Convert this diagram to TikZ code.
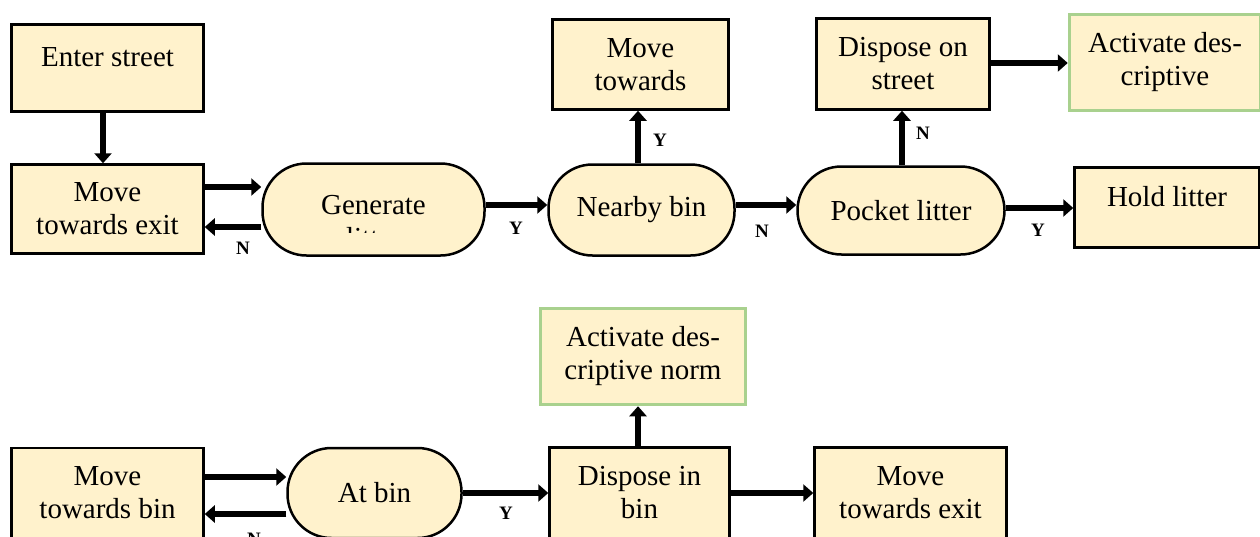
\documentclass[tikz,border=0pt]{standalone}
\usepackage{fontspec}
\setmainfont{Liberation Serif}
\usetikzlibrary{arrows.meta}
\definecolor{boxfill}{HTML}{FFF2CC}
\definecolor{normgreen}{HTML}{A9D18E}
\begin{document}
\begin{tikzpicture}[x=1pt,y=-1pt,
  base/.style={font=\fontsize{29}{33}\selectfont, align=center, inner sep=0pt},
  box/.style={base, draw=black, line width=2.5pt, fill=boxfill, rectangle},
  normbox/.style={base, draw=normgreen, line width=3.5pt, fill=boxfill, rectangle},
  stadium/.style={base, draw=black, line width=2.5pt, fill=boxfill, rectangle, rounded corners=44pt},
  arr/.style={line width=6.5pt, -{Triangle[length=10pt,width=17pt]}},
  lab/.style={font=\fontsize{19}{22}\selectfont\bfseries, inner sep=0pt}]
\useasboundingbox (0,0) rectangle (1260,536);
\clip (0,0) rectangle (1260,536);

% top row
\node[box, minimum width=192pt, minimum height=87pt] (es) at (107.5,68) {\raisebox{2pt}[0pt][0pt]{Enter street}};
\node[box, minimum width=192pt, minimum height=89pt] (mte) at (107.5,209) {Move\\towards exit};
\node[stadium, minimum width=222pt, minimum height=92pt] (gen) at (373.5,209.5) {};
\begin{scope}
  \clip (262,150) rectangle (486,232);
  \node[base, anchor=base] (gent) at (373.5,247) {Generate\\litter};
\end{scope}
\node[stadium, minimum width=186pt, minimum height=91pt] (nb) at (641.5,210) {Nearby bin};
\node[box, minimum width=176pt, minimum height=90pt] (mt) at (640.5,64.5) {Move\\towards};
\node[stadium, minimum width=207pt, minimum height=88pt] (pl) at (901,210.5) {Pocket litter};
\node[box, minimum width=173pt, minimum height=91pt] (ds) at (903,64) {Dispose on\\street};
\node[normbox, minimum width=191pt, minimum height=96pt] (ad1) at (1165,62.5) {Activate des-\\criptive};
\node[box, minimum width=185pt, minimum height=80pt] (hl) at (1167,207.5) {\raisebox{1.5pt}[0pt][0pt]{Hold litter}};

% bottom row
\node[normbox, minimum width=205pt, minimum height=96pt] (ad2) at (643,356.5) {Activate des-\\criptive norm};
\node[box, minimum width=192pt, minimum height=90pt] (mtb) at (107.5,493) {Move\\towards bin};
\node[stadium, minimum width=174pt, minimum height=90pt] (ab) at (374.5,493) {At bin};
\node[box, minimum width=180pt, minimum height=91pt] (dib) at (639.5,493) {Dispose in\\bin};
\node[box, minimum width=192pt, minimum height=91pt] (mte2) at (910.5,493) {Move\\towards exit};

% connectors
\draw[arr] ([xshift=-4.5pt]es.south) -- ([xshift=-4.5pt]mte.north);
\draw[arr] (mte.east |- 0,187) -- (gen.west |- 0,187);
\draw[arr] (gen.west |- 0,227) -- (mte.east |- 0,227);
\draw[arr] (gen.east |- 0,205) -- (nb.west |- 0,205);
\draw[arr] (nb.north -| 638,0) -- (mt.south -| 638,0);
\draw[arr] (nb.east |- 0,205) -- (pl.west |- 0,205);
\draw[arr] (pl.north -| 902,0) -- (ds.south -| 902,0);
\draw[arr] (ds.east |- 0,63) -- (ad1.west |- 0,63);
\draw[arr] (pl.east |- 0,208) -- (hl.west |- 0,208);
\draw[arr] (mtb.east |- 0,477) -- (ab.west |- 0,477);
\draw[arr] (ab.west |- 0,514) -- (mtb.east |- 0,514);
\draw[arr] (ab.east |- 0,493) -- (dib.west |- 0,493);
\draw[arr] (dib.north -| 638,0) -- (ad2.south -| 638,0);
\draw[arr] (dib.east |- 0,493) -- (mte2.west |- 0,493);

% labels
\node[lab] (l1) at (243,248) {N};
\node[lab] (l2) at (516,228) {Y};
\node[lab] (l3) at (660,140) {Y};
\node[lab] (l4) at (762,231) {N};
\node[lab] (l5) at (923,133) {N};
\node[lab] (l6) at (1038,230) {Y};
\node[lab] (l7) at (254,539) {N};
\node[lab] (l8) at (506,513) {Y};
\end{tikzpicture}
\end{document}
